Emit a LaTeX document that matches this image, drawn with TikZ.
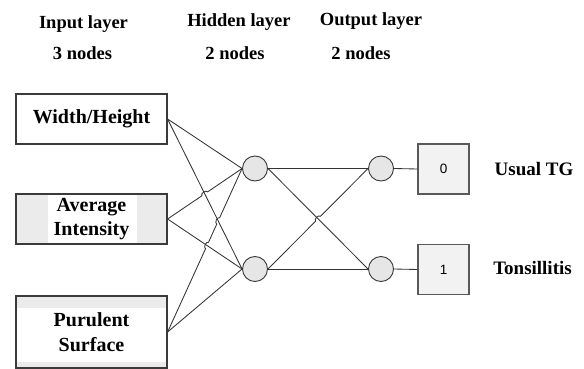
\documentclass[tikz,border=0pt]{standalone}
\usepackage{fontspec}
\setmainfont{Liberation Serif}
\newfontfamily\sansnum{Liberation Sans}
\usetikzlibrary{calc}
\definecolor{boxgray}{HTML}{EBEBEB}
\definecolor{circgray}{HTML}{E6E6E6}
\definecolor{outgray}{HTML}{F2F2F2}
\definecolor{edgegray}{HTML}{3A3A3A}
\tikzset{
  title/.style={font=\fontsize{18.5}{20}\selectfont\bfseries, anchor=base, inner sep=0pt},
  label/.style={font=\fontsize{19}{21}\selectfont\bfseries, inner sep=0pt},
  ibox/.style={draw=edgegray, line width=1.2pt, minimum width=151pt, inner sep=0pt,
    font=\fontsize{20}{24.5}\selectfont\bfseries, align=center},
  neuron/.style={circle, draw=edgegray, fill=circgray, line width=0.9pt, minimum size=25pt, inner sep=0pt},
  obox/.style={draw=black!65, fill=outgray, line width=1.1pt, minimum width=51pt, minimum height=50pt,
    inner sep=0pt, font=\sansnum\fontsize{13.5}{15}\selectfont},
  conn/.style={draw=black!80, line width=0.85pt},
}
\begin{document}
\begin{tikzpicture}[x=1pt,y=-1pt]
\useasboundingbox (0,0) rectangle (584,369);
\fill[white] (0,0) rectangle (584,369);
% titles
\node[title] (t1) at (83.5,29) {Input layer};
\node[title] (t2) at (82.5,60) {3 nodes};
\node[title] (t3) at (239,27) {Hidden layer};
\node[title] (t4) at (235,60) {2 nodes};
\node[title] (t5) at (371,26) {Output layer};
\node[title] (t6) at (361,60) {2 nodes};
% input boxes
\node[ibox, fill=white, minimum height=50pt] (w) at (91.5,119) {Width/Height};
\fill[boxgray] (16,194) rectangle (167,244);
\fill[white] (48,195) rectangle (137,243);
\node[ibox, minimum height=50pt] (av) at (91.5,219) {Average\\Intensity};
\fill[white] (16,296) rectangle (167,368);
\fill[boxgray] (17,297) rectangle (166,308);
\fill[boxgray] (17,362) rectangle (166,368);
\node[ibox, minimum height=72pt] (p) at (91.5,332) {Purulent\\Surface};
% neurons
\node[neuron] (h1) at (255,168.5) {};
\node[neuron] (h2) at (255,269) {};
\node[neuron] (o1) at (381,168.5) {};
\node[neuron] (o2) at (381,269) {};
% output boxes
\node[obox] (b0) at (443.5,169) {0};
\node[obox] (b1) at (443.5,269.5) {1};
\node[label] (l0) at (534,169) {Usual TG};
\node[label] (l1) at (532.5,268) {Tonsillitis};
% crossing points
\coordinate (xa) at (intersection of av.east--h1.west and w.east--h2.west);
\coordinate (xb) at (intersection of p.east--h1.west and w.east--h2.west);
\coordinate (xc) at (intersection of p.east--h1.west and av.east--h2.west);
\coordinate (xd) at (intersection of h2.east--o1.west and h1.east--o2.west);
% input to hidden
\draw[conn] (w.east) -- (h1.west);
\draw[conn] (w.east) -- (h2.west);
\draw[conn] (av.east) -- (h2.west);
\draw[conn] (av.east) -- ($(xa)!3.5pt!(av.east)$) to[bend left=90] ($(xa)!3.5pt!(h1.west)$) -- (h1.west);
\draw[conn] (p.east) -- ($(xc)!3.5pt!(p.east)$) to[bend left=90] ($(xc)!3.5pt!(xb)$)
  -- ($(xb)!3.5pt!(p.east)$) to[bend left=90] ($(xb)!3.5pt!(h1.west)$) -- (h1.west);
\draw[conn] (p.east) -- (h2.west);
% hidden to output
\draw[conn] (h1.east) -- (o1.west);
\draw[conn] (h1.east) -- (o2.west);
\draw[conn] (h2.east) -- (o2.west);
\draw[conn] (h2.east) -- ($(xd)!3.5pt!(h2.east)$) to[bend left=90] ($(xd)!3.5pt!(o1.west)$) -- (o1.west);
% output to boxes
\draw[conn] (o1.east) -- (b0.west);
\draw[conn] (o2.east) -- (b1.west);
\end{tikzpicture}
\end{document}
